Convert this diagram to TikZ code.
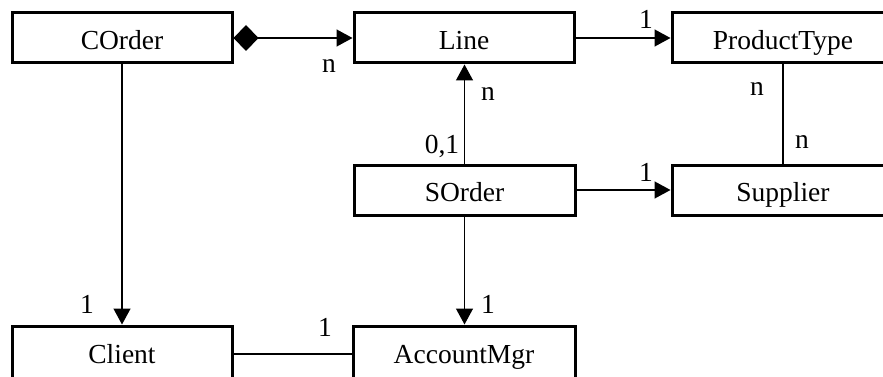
\documentclass[tikz,border=0pt]{standalone}
\usepackage{fontspec}
\setmainfont{Liberation Serif}
\usetikzlibrary{arrows.meta}
\begin{document}
\begin{tikzpicture}[x=1pt,y=-1pt,
  every node/.style={font=\fontsize{27.5}{32}\selectfont, inner sep=0pt},
  box/.style={draw, line width=3pt, rectangle, minimum height=50pt, text height=23pt, text depth=0pt},
  lowbox/.style={draw, line width=3pt, rectangle, minimum height=56pt, text height=19pt, text depth=0pt},
  conn/.style={line width=1.4pt},
  tri/.style={-{Triangle[length=16pt,width=17pt]}},
  lbl/.style={}]
\useasboundingbox (0,0) rectangle (883,377);
\clip (0,0) rectangle (883,377);
\fill[white] (0,0) rectangle (883,377);
% boxes
\node[box, minimum width=220pt] (corder) at (122,38) {COrder};
\node[box, minimum width=220pt] (line) at (464,38) {Line};
\node[box, minimum width=222pt] (ptype) at (783,38) {ProductType};
\node[box, minimum width=221pt] (sorder) at (464.5,190) {SOrder};
\node[box, minimum width=222pt] (supplier) at (783,190) {Supplier};
\node[lowbox, minimum width=220pt] (client) at (122,354) {Client};
\node[lowbox, minimum width=222pt] (acct) at (464,354) {AccountMgr};
% connectors
\draw[conn, {Diamond[length=25pt,width=26pt]}-{Triangle[length=16pt,width=17pt]}] (corder) -- (line);
\draw[conn, tri] (line) -- (ptype);
\draw[conn, tri] (sorder.north) -- (sorder.north |- line.south);
\draw[conn] (ptype.south) -- (supplier.north);
\draw[conn, tri] (sorder) -- (supplier);
\draw[conn, tri] (corder.south) -- (client.north);
\draw[conn, tri] (sorder.south) -- (sorder.south |- acct.north);
\draw[conn] (client) -- (acct);
% labels
\node[lbl] (l1) at (329,66.5) {n};
\node[lbl] (l2) at (646,19) {1};
\node[lbl] (l3) at (488,94) {n};
\node[lbl] (l4) at (442,146.5) {0,1};
\node[lbl] (l5) at (757,89) {n};
\node[lbl] (l6) at (802,142) {n};
\node[lbl] (l7) at (646,172) {1};
\node[lbl] (l8) at (87,304) {1};
\node[lbl] (l9) at (488,304) {1};
\node[lbl] (l10) at (325,327) {1};
\end{tikzpicture}
\end{document}
